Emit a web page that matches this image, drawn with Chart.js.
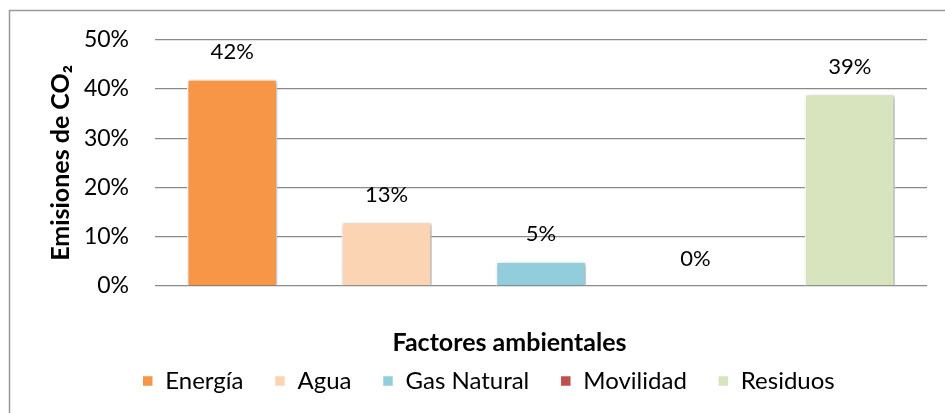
<!DOCTYPE html>
<html>
<head>
<meta charset="utf-8">
<script src="https://cdn.jsdelivr.net/npm/chart.js@4.4.1/dist/chart.umd.min.js"></script>
<style>
  html, body { margin: 0; padding: 0; background: #ffffff; }
  #wrap { width: 945px; height: 413px; position: relative; }
</style>
</head>
<body>
<div id="wrap"><canvas id="c" width="945" height="413"></canvas></div>
<script>
const categories = ['Energía', 'Agua', 'Gas Natural', 'Movilidad', 'Residuos'];
const values = [0.42, 0.13, 0.05, 0.00, 0.39];
const colors = ['#F79646', '#FBD4B4', '#92CDDC', '#C0504D', '#D7E4BD'];
const yTicks = [0, 0.1, 0.2, 0.3, 0.4, 0.5];
const yTitle = 'Emisiones de CO₂';
const xTitle = 'Factores ambientales';

const FONT = 'Lato, Carlito, "Liberation Sans", sans-serif';

const datasets = categories.map((name, i) => ({
  label: name,
  data: values.map((v, j) => (j === i ? v : null)),
  backgroundColor: colors[i],
  borderColor: '#ffffff',
  borderWidth: 1.5,
  categoryPercentage: 1,
  barPercentage: 0.585,
  grouped: false
}));

const frame = {
  id: 'frame',
  beforeDraw(chart) {
    const ctx = chart.ctx;
    ctx.save();
    ctx.fillStyle = '#ffffff';
    ctx.fillRect(0, 0, chart.width, chart.height);
    ctx.strokeStyle = '#9a9a9a';
    ctx.lineWidth = 1.5;
    ctx.beginPath();
    ctx.moveTo(9.5, chart.height + 2);
    ctx.lineTo(9.5, 10.5);
    ctx.lineTo(chart.width + 2, 10.5);
    ctx.stroke();
    ctx.restore();
  }
};

const shadow = {
  id: 'shadow',
  beforeDatasetsDraw(chart) {
    const ctx = chart.ctx;
    ctx.save();
    ctx.shadowColor = 'rgba(0,0,0,0.35)';
    ctx.shadowBlur = 4;
    ctx.shadowOffsetX = 1.5;
    ctx.shadowOffsetY = 1.5;
  },
  afterDatasetsDraw(chart) {
    chart.ctx.restore();
  }
};

const valueLabels = {
  id: 'valueLabels',
  afterDraw(chart) {
    const ctx = chart.ctx;
    ctx.save();
    ctx.fillStyle = '#000000';
    ctx.font = '22px ' + FONT;
    ctx.textAlign = 'center';
    ctx.textBaseline = 'middle';
    chart.data.datasets.forEach((ds, di) => {
      const meta = chart.getDatasetMeta(di);
      ds.data.forEach((v, i) => {
        if (v === null) return;
        const el = meta.data[i];
        ctx.fillText(Math.round(v * 100) + '%', el.x, el.y - 27);
      });
    });
    ctx.restore();
  }
};

const shiftBoxes = {
  id: 'shiftBoxes',
  afterLayout(chart) {
    const t = chart.titleBlock;
    if (t) { t.left += 26; t.right += 26; t.top += 20; t.bottom += 20; }
    const l = chart.legend;
    if (l) { l.left += 5; l.right += 5; }
  }
};

new Chart(document.getElementById('c'), {
  type: 'bar',
  data: { labels: categories, datasets },
  plugins: [frame, shadow, valueLabels, shiftBoxes],
  options: {
    responsive: false,
    animation: false,
    events: [],
    layout: { padding: { left: 40, right: 18, top: 39, bottom: 10 } },
    scales: {
      x: {
        grid: { display: false },
        border: { display: false },
        ticks: { display: false },
        afterFit(scale) { scale.height = 22; }
      },
      y: {
        min: 0,
        max: 0.5,
        afterBuildTicks(scale) { scale.ticks = yTicks.map(v => ({ value: v })); },
        ticks: {
          padding: 26,
          color: '#000000',
          font: { family: FONT, size: 23 },
          callback: v => Math.round(v * 100) + '%'
        },
        grid: { color: '#8a8a8a', lineWidth: 1.2, drawTicks: false },
        border: { display: false },
        title: {
          display: true,
          text: yTitle,
          color: '#000000',
          font: { family: FONT, size: 25, weight: 'bold' },
          padding: { top: 6, bottom: 0 }
        },
        afterFit(scale) { scale.width = 115; }
      }
    },
    plugins: {
      legend: {
        position: 'bottom',
        weight: 1000,
        labels: {
          boxWidth: 11,
          boxHeight: 11,
          padding: 31,
          color: '#000000',
          font: { family: FONT, size: 24 }
        }
      },
      title: {
        display: true,
        position: 'bottom',
        weight: 500,
        text: xTitle,
        color: '#000000',
        font: { family: FONT, size: 25, weight: 'bold' },
        padding: { top: 0, bottom: 0 }
      },
      tooltip: { enabled: false }
    }
  }
});
</script>
</body>
</html>
